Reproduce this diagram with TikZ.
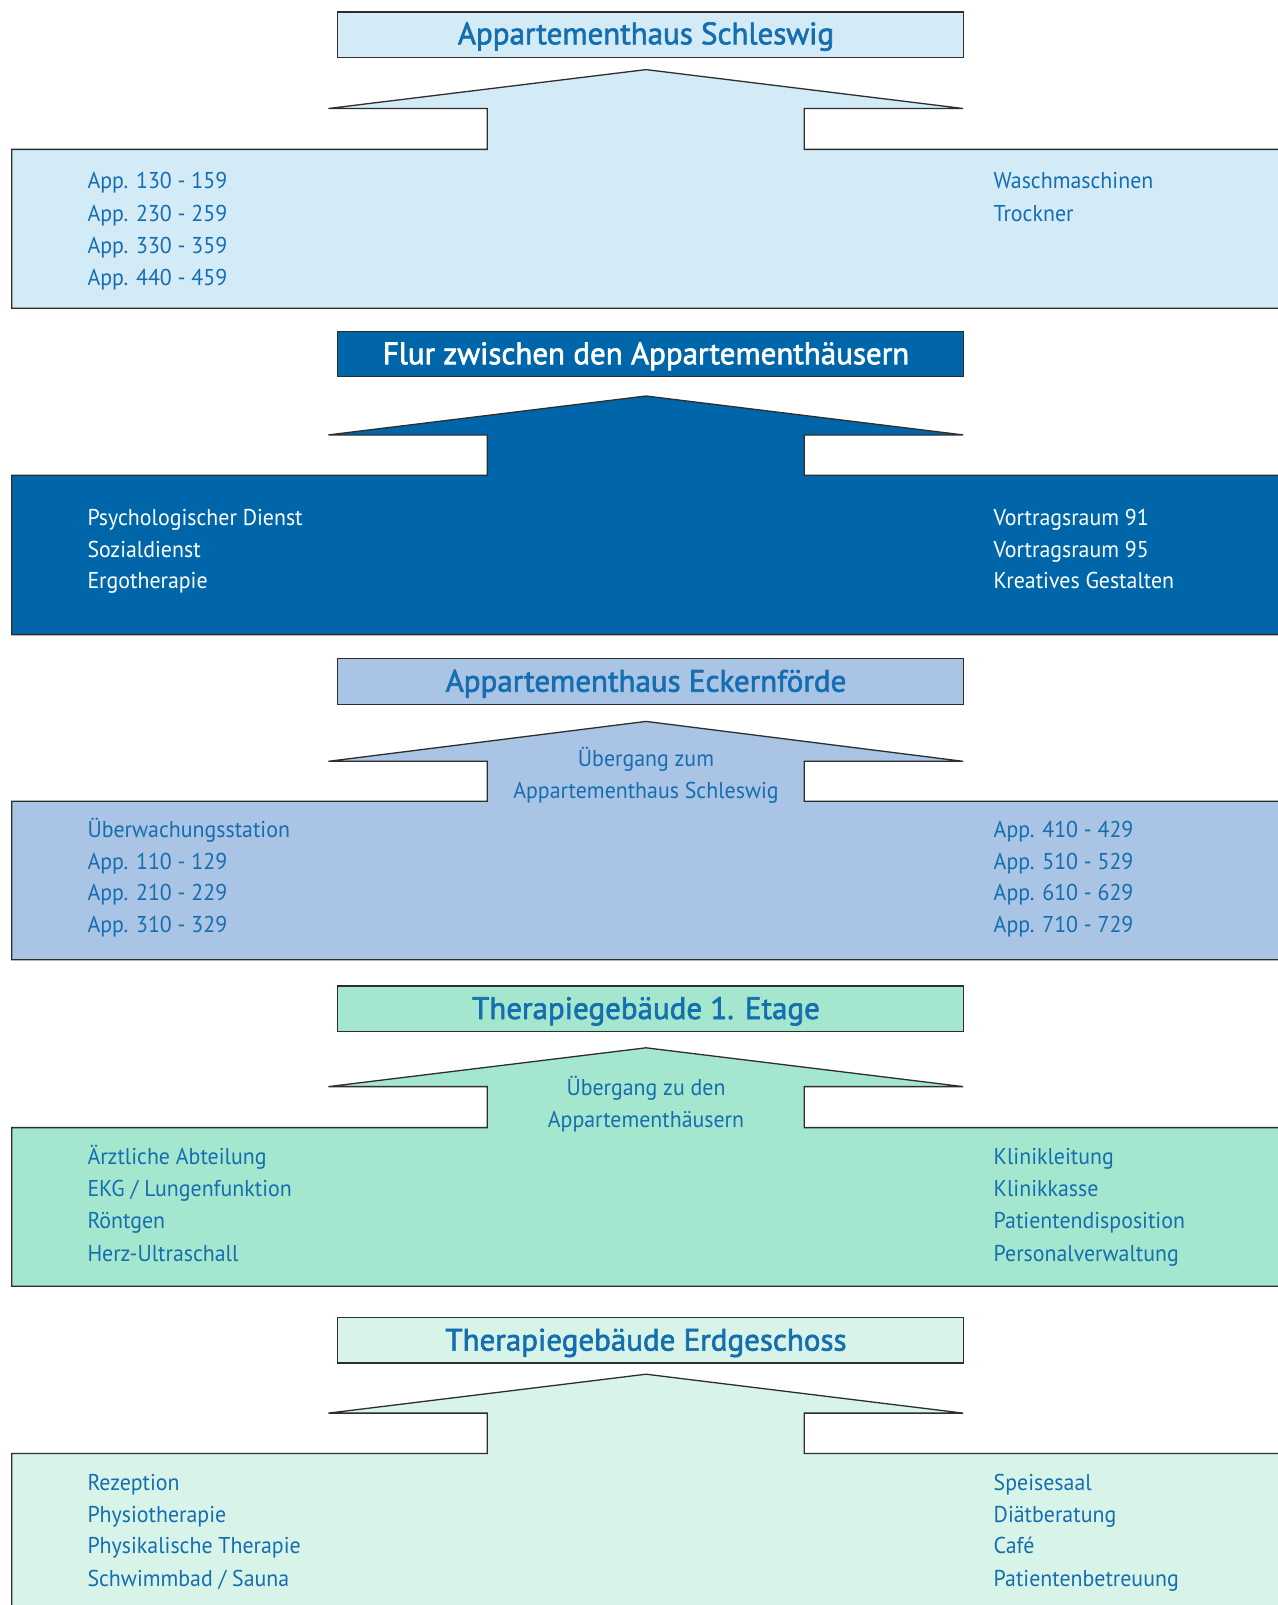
\documentclass[tikz,border=0pt]{standalone}
\usepackage{fontspec}
\setmainfont{PT Sans}
\newfontfamily\bodyf[FakeStretch=0.955]{PT Sans}
\newfontfamily\titlef[FakeBold=2]{PT Sans}
\definecolor{cA}{HTML}{D3EAF7}
\definecolor{cB}{HTML}{0066AA}
\definecolor{cC}{HTML}{A9C4E4}
\definecolor{cD}{HTML}{A5E7CE}
\definecolor{cE}{HTML}{D8F4E8}
\definecolor{tblue}{HTML}{146EAF}
\definecolor{edge}{HTML}{2E2E2E}
\newcommand\hshape[5]{%
  \filldraw[fill=#1, outl] (1290,#4) -- (804.2,#4) -- (804.2,#3) -- (963,#3) -- (646,#2) -- (328.5,#3) -- (487.3,#3) -- (487.3,#4) -- (11.7,#4) -- (11.7,#5) -- (1290,#5);}
\begin{document}
\begin{tikzpicture}[x=1pt,y=-1pt,
  outl/.style={draw=edge, line width=1.3pt},
  tbox/.style={draw=edge, line width=1.3pt, minimum width=626.2pt, minimum height=45.5pt, inner sep=0pt, anchor=north west},
  ttext/.style={anchor=base, inner sep=0pt, font=\titlef\fontsize{31}{37}\selectfont, text=tblue},
  btext/.style={anchor=base west, inner sep=0pt, font=\bodyf\fontsize{22.9}{32}\selectfont, text=tblue},
  atext/.style={anchor=base, inner sep=0pt, font=\bodyf\fontsize{22.9}{32}\selectfont, text=tblue}]
\useasboundingbox (0,0) rectangle (1277,1605);
\fill[white] (0,0) rectangle (1277,1605);

% Section 1
\node[tbox, fill=cA] (t1) at (336.6,11.3) {};
\node[ttext] (t1l) at (646,44.3) {Appartementhaus Schleswig};
\hshape{cA}{69.6}{108.5}{149.4}{308.3}
\node[btext] (a1) at (87.3,189) {App. 130 - 159};
\node[btext] (a2) at (87.3,221.1) {App. 230 - 259};
\node[btext] (a3) at (87.3,253.2) {App. 330 - 359};
\node[btext] (a4) at (87.3,285.3) {App. 440 - 459};
\node[btext] (a5) at (993.5,189) {Waschmaschinen};
\node[btext] (a6) at (993.5,221.1) {Trockner};

% Section 2
\node[tbox, fill=cB] (t2) at (336.6,330.5) {};
\node[ttext, text=white] (t2l) at (646,364.2) {Flur zwischen den Appartementhäusern};
\hshape{cB}{396}{434.9}{475.2}{634.6}
\node[btext, text=white] (b1) at (87.3,525.7) {Psychologischer Dienst};
\node[btext, text=white] (b2) at (87.3,557.3) {Sozialdienst};
\node[btext, text=white] (b3) at (87.3,588.9) {Ergotherapie};
\node[btext, text=white] (b4) at (993.5,525.7) {Vortragsraum 91};
\node[btext, text=white] (b5) at (993.5,557.3) {Vortragsraum 95};
\node[btext, text=white] (b6) at (993.5,588.9) {Kreatives Gestalten};

% Section 3
\node[tbox, fill=cC] (t3) at (336.6,658) {};
\node[ttext] (t3l) at (646,691.7) {Appartementhaus Eckernförde};
\hshape{cC}{721.4}{761.3}{801.2}{959.8}
\node[atext] (c0a) at (646,766.9) {Übergang zum};
\node[atext] (c0b) at (646,798.6) {Appartementhaus Schleswig};
\node[btext] (c1) at (87.3,837.5) {Überwachungsstation};
\node[btext] (c2) at (87.3,869.2) {App. 110 - 129};
\node[btext] (c3) at (87.3,900.9) {App. 210 - 229};
\node[btext] (c4) at (87.3,932.7) {App. 310 - 329};
\node[btext] (c5) at (993.5,837.5) {App. 410 - 429};
\node[btext] (c6) at (993.5,869.2) {App. 510 - 529};
\node[btext] (c7) at (993.5,900.9) {App. 610 - 629};
\node[btext] (c8) at (993.5,932.7) {App. 710 - 729};

% Section 4
\node[tbox, fill=cD] (t4) at (336.6,985.3) {};
\node[ttext] (t4l) at (646,1019) {Therapiegebäude 1. Etage};
\hshape{cD}{1047.8}{1086.6}{1127.6}{1286.2}
\node[atext] (d0a) at (646,1095.5) {Übergang zu den};
\node[atext] (d0b) at (646,1127.3) {Appartementhäusern};
\node[btext] (d1) at (87.3,1164.9) {Ärztliche Abteilung};
\node[btext] (d2) at (87.3,1196.7) {EKG / Lungenfunktion};
\node[btext] (d3) at (87.3,1228.4) {Röntgen};
\node[btext] (d4) at (87.3,1261.1) {Herz-Ultraschall};
\node[btext] (d5) at (993.5,1164.9) {Klinikleitung};
\node[btext] (d6) at (993.5,1196.7) {Klinikkasse};
\node[btext] (d7) at (993.5,1228.4) {Patientendisposition};
\node[btext] (d8) at (993.5,1261.1) {Personalverwaltung};

% Section 5
\node[tbox, fill=cE] (t5) at (336.6,1316.9) {};
\node[ttext] (t5l) at (646,1350.6) {Therapiegebäude Erdgeschoss};
\hshape{cE}{1374.2}{1413.1}{1453.5}{1615}
\node[btext] (e1) at (87.3,1490.3) {Rezeption};
\node[btext] (e2) at (87.3,1522) {Physiotherapie};
\node[btext] (e3) at (87.3,1553.8) {Physikalische Therapie};
\node[btext] (e4) at (87.3,1586.5) {Schwimmbad / Sauna};
\node[btext] (e5) at (993.5,1490.3) {Speisesaal};
\node[btext] (e6) at (993.5,1522) {Diätberatung};
\node[btext] (e7) at (993.5,1553.8) {Café};
\node[btext] (e8) at (993.5,1586.5) {Patientenbetreuung};
\end{tikzpicture}
\end{document}
